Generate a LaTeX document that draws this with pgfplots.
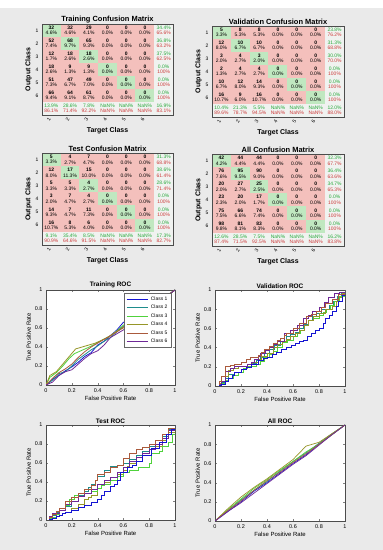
\documentclass[border=0pt]{standalone}
\usepackage{pgfplots}
\pgfplotsset{compat=1.18}
\usepackage{pgfplotstable}
\usepackage{fontspec}
\setmainfont{Liberation Sans}
\definecolor{figbg}{RGB}{234,234,234}
\definecolor{sgr}{RGB}{40,170,60}
\definecolor{srd}{RGB}{205,60,60}
\definecolor{r1}{RGB}{20,20,210}
\definecolor{r2}{RGB}{30,140,140}
\definecolor{r3}{RGB}{80,210,60}
\definecolor{r4}{RGB}{150,150,40}
\definecolor{r5}{RGB}{170,90,60}
\definecolor{r6}{RGB}{110,40,150}
\protected\def\K#1#2{\textbf{#1}\\#2\%}
\protected\def\Q#1#2{\textcolor{sgr}{#1\%}\\\textcolor{srd}{#2\%}}
\protected\def\Z{\K{0}{0.0}}
\protected\def\N{\Q{NaN}{NaN}}
\protected\def\W{\Q{0.0}{100}}

\pgfplotstableread{
x y c
1 1 1
2 1 0
3 1 0
4 1 0
5 1 0
6 1 0
7 1 2
1 2 0
2 2 1
3 2 0
4 2 0
5 2 0
6 2 0
7 2 2
1 3 0
2 3 0
3 3 1
4 3 0
5 3 0
6 3 0
7 3 2
1 4 0
2 4 0
3 4 0
4 4 1
5 4 0
6 4 0
7 4 2
1 5 0
2 5 0
3 5 0
4 5 0
5 5 1
6 5 0
7 5 2
1 6 0
2 6 0
3 6 0
4 6 0
5 6 0
6 6 1
7 6 2
1 7 2
2 7 2
3 7 2
4 7 2
5 7 2
6 7 2
7 7 2
}\gridtab

\pgfplotsset{
  /pgf/number format/assume math mode=true,
  every axis title shift=0pt,
  cm/.style={scale only axis, width=131bp, height=91bp,
    xmin=0.5, xmax=7.5, ymin=0.5, ymax=7.5, y dir=reverse,
    xtick={1,...,6}, ytick={1,...,6}, major tick length=0pt,
    x tick label style={rotate=60, anchor=east, font=\fontsize{5}{5}\selectfont},
    y tick label style={font=\fontsize{5}{5}\selectfont},
    xlabel={Target Class}, ylabel={Output Class},
    label style={font=\bfseries\fontsize{7}{8}\selectfont},
    xlabel style={yshift=2pt}, ylabel style={yshift=-3pt},
    title style={font=\bfseries\fontsize{7.5}{8}\selectfont, inner sep=1pt},
    axis on top, axis line style={black!70},
    colormap={cmc}{rgb255=(244,192,188) rgb255=(192,232,192) rgb255=(240,242,240)},
  },
  cmcells/.style={matrix plot, mesh/cols=7, colormap access=direct, point meta=\thisrow{c}, faceted color=black!55},
  cmtext/.style={draw=none, mark=none, nodes near coords, point meta=explicit symbolic,
    nodes near coords align={center},
    every node near coord/.append style={font=\fontsize{5}{5.5}\selectfont, align=center, inner sep=0pt, anchor=center}},
  roc/.style={scale only axis, width=129bp, height=95bp,
    xmin=0, xmax=1, ymin=0, ymax=1,
    xtick={0,0.2,0.4,0.6,0.8,1}, ytick={0,0.2,0.4,0.6,0.8,1},
    tick label style={font=\fontsize{5.5}{6}\selectfont},
    xlabel={False Positive Rate}, ylabel={True Positive Rate},
    label style={font=\fontsize{6}{7}\selectfont},
    xlabel style={yshift=3pt}, ylabel style={yshift=-3pt},
    title style={font=\bfseries\fontsize{6.5}{7}\selectfont, inner sep=1.5pt},
    axis background/.style={fill=white}, major tick length=2pt,
    axis line style={black!70},
    every axis plot/.append style={line width=0.8pt},
  },
}

\begin{document}
\begin{tikzpicture}
\fill[figbg] (0bp,0bp) rectangle (383bp,542bp);
\fill[white] (0bp,542bp) rectangle (383bp,550bp);

% ---------- Training confusion
\begin{axis}[cm, at={(42bp,435bp)}, anchor=south west, title={Training Confusion Matrix}]
\addplot[cmcells] table {\gridtab};
\addplot[cmtext] coordinates {
(1,1)[\K{32}{4.6}] (2,1)[\K{32}{4.6}] (3,1)[\K{29}{4.1}] (4,1)[\Z] (5,1)[\Z] (6,1)[\Z] (7,1)[\Q{34.4}{65.6}]
(1,2)[\K{52}{7.4}] (2,2)[\K{68}{9.7}] (3,2)[\K{65}{9.3}] (4,2)[\Z] (5,2)[\Z] (6,2)[\Z] (7,2)[\Q{36.8}{63.2}]
(1,3)[\K{12}{1.7}] (2,3)[\K{18}{2.6}] (3,3)[\K{18}{2.6}] (4,3)[\Z] (5,3)[\Z] (6,3)[\Z] (7,3)[\Q{37.5}{62.5}]
(1,4)[\K{18}{2.6}] (2,4)[\K{9}{1.3}] (3,4)[\K{9}{1.3}] (4,4)[\Z] (5,4)[\Z] (6,4)[\Z] (7,4)[\W]
(1,5)[\K{51}{7.3}] (2,5)[\K{47}{6.7}] (3,5)[\K{49}{7.0}] (4,5)[\Z] (5,5)[\Z] (6,5)[\Z] (7,5)[\W]
(1,6)[\K{66}{9.4}] (2,6)[\K{64}{9.1}] (3,6)[\K{61}{8.7}] (4,6)[\Z] (5,6)[\Z] (6,6)[\Z] (7,6)[\W]
(1,7)[\Q{13.9}{86.1}] (2,7)[\Q{28.6}{71.4}] (3,7)[\Q{7.8}{92.2}] (4,7)[\N] (5,7)[\N] (6,7)[\N] (7,7)[\Q{16.9}{83.1}]
};
\end{axis}

% ---------- Validation confusion
\begin{axis}[cm, at={(212bp,433bp)}, anchor=south west, width=132bp, title={Validation Confusion Matrix}]
\addplot[cmcells] table {\gridtab};
\addplot[cmtext] coordinates {
(1,1)[\K{5}{3.3}] (2,1)[\K{8}{5.3}] (3,1)[\K{8}{5.3}] (4,1)[\Z] (5,1)[\Z] (6,1)[\Z] (7,1)[\Q{23.8}{76.2}]
(1,2)[\K{12}{8.0}] (2,2)[\K{10}{6.7}] (3,2)[\K{10}{6.7}] (4,2)[\Z] (5,2)[\Z] (6,2)[\Z] (7,2)[\Q{31.3}{68.8}]
(1,3)[\K{3}{2.0}] (2,3)[\K{4}{2.7}] (3,3)[\K{3}{2.0}] (4,3)[\Z] (5,3)[\Z] (6,3)[\Z] (7,3)[\Q{30.0}{70.0}]
(1,4)[\K{2}{1.3}] (2,4)[\K{4}{2.7}] (3,4)[\K{4}{2.7}] (4,4)[\Z] (5,4)[\Z] (6,4)[\Z] (7,4)[\W]
(1,5)[\K{10}{6.7}] (2,5)[\K{12}{8.0}] (3,5)[\K{14}{9.3}] (4,5)[\Z] (5,5)[\Z] (6,5)[\Z] (7,5)[\W]
(1,6)[\K{16}{10.7}] (2,6)[\K{9}{6.0}] (3,6)[\K{16}{10.7}] (4,6)[\Z] (5,6)[\Z] (6,6)[\Z] (7,6)[\W]
(1,7)[\Q{10.4}{89.6}] (2,7)[\Q{21.3}{78.7}] (3,7)[\Q{5.5}{94.5}] (4,7)[\N] (5,7)[\N] (6,7)[\N] (7,7)[\Q{12.0}{88.0}]
};
\end{axis}

% ---------- Test confusion
\begin{axis}[cm, at={(42bp,305bp)}, anchor=south west, height=92bp, title={Test Confusion Matrix}]
\addplot[cmcells] table {\gridtab};
\addplot[cmtext] coordinates {
(1,1)[\K{5}{3.3}] (2,1)[\K{4}{2.7}] (3,1)[\K{7}{4.7}] (4,1)[\Z] (5,1)[\Z] (6,1)[\Z] (7,1)[\Q{31.3}{68.8}]
(1,2)[\K{12}{8.0}] (2,2)[\K{17}{11.3}] (3,2)[\K{15}{10.0}] (4,2)[\Z] (5,2)[\Z] (6,2)[\Z] (7,2)[\Q{38.6}{61.4}]
(1,3)[\K{5}{3.3}] (2,3)[\K{5}{3.3}] (3,3)[\K{4}{2.7}] (4,3)[\Z] (5,3)[\Z] (6,3)[\Z] (7,3)[\Q{28.6}{71.4}]
(1,4)[\K{3}{2.0}] (2,4)[\K{7}{4.7}] (3,4)[\K{4}{2.7}] (4,4)[\Z] (5,4)[\Z] (6,4)[\Z] (7,4)[\W]
(1,5)[\K{14}{9.3}] (2,5)[\K{7}{4.7}] (3,5)[\K{11}{7.3}] (4,5)[\Z] (5,5)[\Z] (6,5)[\Z] (7,5)[\W]
(1,6)[\K{16}{10.7}] (2,6)[\K{8}{5.3}] (3,6)[\K{6}{4.0}] (4,6)[\Z] (5,6)[\Z] (6,6)[\Z] (7,6)[\W]
(1,7)[\Q{9.1}{90.9}] (2,7)[\Q{35.4}{64.6}] (3,7)[\Q{8.5}{91.5}] (4,7)[\N] (5,7)[\N] (6,7)[\N] (7,7)[\Q{17.3}{82.7}]
};
\end{axis}

% ---------- All confusion
\begin{axis}[cm, at={(212bp,304bp)}, anchor=south west, width=132bp, height=92bp, title={All Confusion Matrix}]
\addplot[cmcells] table {\gridtab};
\addplot[cmtext] coordinates {
(1,1)[\K{42}{4.2}] (2,1)[\K{44}{4.4}] (3,1)[\K{44}{4.4}] (4,1)[\Z] (5,1)[\Z] (6,1)[\Z] (7,1)[\Q{32.3}{67.7}]
(1,2)[\K{76}{7.6}] (2,2)[\K{95}{9.5}] (3,2)[\K{90}{9.0}] (4,2)[\Z] (5,2)[\Z] (6,2)[\Z] (7,2)[\Q{36.4}{63.6}]
(1,3)[\K{20}{2.0}] (2,3)[\K{27}{2.7}] (3,3)[\K{25}{2.5}] (4,3)[\Z] (5,3)[\Z] (6,3)[\Z] (7,3)[\Q{34.7}{65.3}]
(1,4)[\K{23}{2.3}] (2,4)[\K{20}{2.0}] (3,4)[\K{17}{1.7}] (4,4)[\Z] (5,4)[\Z] (6,4)[\Z] (7,4)[\W]
(1,5)[\K{75}{7.5}] (2,5)[\K{66}{6.6}] (3,5)[\K{74}{7.4}] (4,5)[\Z] (5,5)[\Z] (6,5)[\Z] (7,5)[\W]
(1,6)[\K{98}{9.8}] (2,6)[\K{81}{8.1}] (3,6)[\K{83}{8.3}] (4,6)[\Z] (5,6)[\Z] (6,6)[\Z] (7,6)[\W]
(1,7)[\Q{12.6}{87.4}] (2,7)[\Q{28.5}{71.5}] (3,7)[\Q{7.5}{92.5}] (4,7)[\N] (5,7)[\N] (6,7)[\N] (7,7)[\Q{16.2}{83.8}]
};
\end{axis}

% ---------- Training ROC
\begin{axis}[roc, at={(46bp,165bp)}, anchor=south west, title={Training ROC},
  legend style={at={(0.97,0.97)}, anchor=north east, font=\fontsize{5}{5.5}\selectfont, inner sep=1.5pt, row sep=-0.6pt, draw=black!60, cells={anchor=west}},
  legend image code/.code={\draw[#1, line width=0.8pt] (0pt,0pt) -- (22pt,0pt);}]
\addplot[r1] coordinates {(0,0) (0.05,0.06) (0.1,0.1) (0.15,0.15) (0.2,0.19) (0.25,0.24) (0.3,0.3) (0.35,0.34) (0.4,0.42) (0.45,0.46) (0.5,0.52) (0.55,0.58) (0.6,0.66) (0.65,0.68) (0.7,0.72) (0.8,0.8) (0.9,0.9) (1,1)};
\addplot[r2] coordinates {(0,0) (0.05,0.05) (0.1,0.12) (0.15,0.14) (0.2,0.2) (0.25,0.27) (0.3,0.32) (0.35,0.37) (0.4,0.41) (0.45,0.46) (0.5,0.5) (0.55,0.56) (0.6,0.62) (0.7,0.7) (0.8,0.8) (0.9,0.9) (1,1)};
\addplot[r3] coordinates {(0,0) (0.03,0.08) (0.08,0.13) (0.13,0.2) (0.18,0.28) (0.22,0.33) (0.27,0.36) (0.32,0.39) (0.38,0.43) (0.43,0.47) (0.5,0.52) (0.55,0.57) (0.6,0.63) (0.7,0.7) (0.8,0.8) (0.9,0.9) (1,1)};
\addplot[r4] coordinates {(0,0) (0.03,0.1) (0.08,0.14) (0.13,0.22) (0.18,0.3) (0.23,0.38) (0.28,0.4) (0.33,0.42) (0.38,0.44) (0.43,0.47) (0.48,0.5) (0.53,0.55) (0.6,0.6) (0.7,0.7) (0.8,0.8) (0.9,0.91) (1,1)};
\addplot[r5] coordinates {(0,0) (0.05,0.07) (0.1,0.13) (0.15,0.17) (0.2,0.22) (0.25,0.29) (0.3,0.35) (0.35,0.4) (0.4,0.44) (0.45,0.48) (0.5,0.52) (0.55,0.56) (0.6,0.61) (0.7,0.71) (0.8,0.8) (0.9,0.9) (1,1)};
\addplot[r6] coordinates {(0,0) (0.05,0.03) (0.1,0.1) (0.15,0.14) (0.2,0.16) (0.25,0.22) (0.3,0.28) (0.35,0.33) (0.4,0.36) (0.45,0.42) (0.5,0.5) (0.55,0.54) (0.6,0.58) (0.7,0.68) (0.8,0.79) (0.9,0.9) (1,1)};
\legend{Class 1, Class 2, Class 3, Class 4, Class 5, Class 6}
\end{axis}

% ---------- Validation ROC
\begin{axis}[roc, at={(215bp,164bp)}, anchor=south west, width=130bp, height=96bp, title={Validation ROC}]
\addplot[r2, const plot] coordinates {(0,0) (0.03,0.02) (0.05,0.04) (0.08,0.08) (0.1,0.12) (0.15,0.14) (0.2,0.17) (0.24,0.2) (0.28,0.24) (0.32,0.27) (0.35,0.3) (0.38,0.34) (0.42,0.38) (0.46,0.42) (0.5,0.46) (0.55,0.52) (0.58,0.54) (0.62,0.56) (0.65,0.6) (0.68,0.64) (0.72,0.68) (0.75,0.72) (0.78,0.76) (0.82,0.8) (0.88,0.84) (0.91,0.88) (0.94,0.93) (0.97,0.96) (1,1)};
\addplot[r3, const plot] coordinates {(0,0) (0.03,0.02) (0.05,0.03) (0.08,0.06) (0.1,0.08) (0.14,0.11) (0.18,0.14) (0.22,0.18) (0.25,0.2) (0.32,0.22) (0.35,0.26) (0.38,0.3) (0.42,0.33) (0.45,0.36) (0.48,0.4) (0.52,0.45) (0.56,0.48) (0.6,0.52) (0.63,0.55) (0.66,0.58) (0.69,0.63) (0.72,0.68) (0.76,0.7) (0.8,0.74) (0.83,0.77) (0.86,0.8) (0.89,0.84) (0.92,0.88) (0.96,0.93) (1,1)};
\addplot[r4, const plot] coordinates {(0,0) (0.03,0.03) (0.05,0.05) (0.08,0.1) (0.1,0.16) (0.14,0.18) (0.18,0.2) (0.25,0.22) (0.29,0.25) (0.33,0.28) (0.36,0.31) (0.4,0.34) (0.45,0.4) (0.48,0.43) (0.52,0.46) (0.55,0.49) (0.58,0.52) (0.62,0.55) (0.65,0.58) (0.69,0.63) (0.72,0.68) (0.76,0.72) (0.8,0.76) (0.85,0.8) (0.9,0.83) (0.93,0.88) (0.95,0.92) (0.98,0.96) (1,1)};
\addplot[r6, const plot] coordinates {(0,0) (0.03,0.02) (0.05,0.05) (0.08,0.15) (0.12,0.18) (0.15,0.2) (0.25,0.22) (0.28,0.25) (0.3,0.28) (0.33,0.31) (0.35,0.34) (0.39,0.37) (0.42,0.4) (0.45,0.43) (0.48,0.46) (0.53,0.55) (0.58,0.58) (0.63,0.63) (0.68,0.7) (0.72,0.74) (0.75,0.78) (0.8,0.82) (0.84,0.87) (0.87,0.92) (0.92,0.96) (0.96,0.98) (1,1)};
\addplot[r5, const plot] coordinates {(0,0) (0.03,0.05) (0.05,0.1) (0.08,0.2) (0.12,0.21) (0.15,0.22) (0.2,0.25) (0.24,0.28) (0.27,0.3) (0.33,0.32) (0.36,0.35) (0.38,0.38) (0.42,0.41) (0.45,0.44) (0.48,0.47) (0.5,0.5) (0.53,0.53) (0.55,0.55) (0.6,0.6) (0.65,0.65) (0.7,0.72) (0.74,0.75) (0.78,0.78) (0.82,0.82) (0.85,0.86) (0.9,0.9) (0.95,0.95) (1,1)};
\addplot[r1, const plot] coordinates {(0,0) (0.03,0.01) (0.05,0.02) (0.08,0.05) (0.1,0.08) (0.13,0.11) (0.15,0.14) (0.2,0.17) (0.24,0.19) (0.28,0.22) (0.33,0.27) (0.37,0.29) (0.4,0.3) (0.44,0.33) (0.47,0.35) (0.51,0.38) (0.55,0.4) (0.59,0.42) (0.62,0.44) (0.65,0.46) (0.68,0.48) (0.71,0.52) (0.74,0.55) (0.77,0.58) (0.8,0.6) (0.83,0.65) (0.85,0.7) (0.88,0.74) (0.9,0.78) (0.93,0.83) (0.95,0.88) (0.98,0.94) (1,1)};
\end{axis}

% ---------- Test ROC
\begin{axis}[roc, at={(46bp,30bp)}, anchor=south west, title={Test ROC}]
\addplot[r4, const plot] coordinates {(0,0) (0.03,0.01) (0.05,0.02) (0.08,0.04) (0.1,0.05) (0.13,0.07) (0.15,0.08) (0.2,0.12) (0.25,0.16) (0.3,0.22) (0.33,0.24) (0.35,0.26) (0.4,0.33) (0.43,0.37) (0.45,0.4) (0.5,0.45) (0.55,0.48) (0.6,0.52) (0.63,0.56) (0.65,0.6) (0.7,0.66) (0.75,0.72) (0.8,0.74) (0.85,0.78) (0.9,0.84) (0.93,0.88) (0.95,0.92) (1,1)};
\addplot[r3, const plot] coordinates {(0,0) (0.03,0.02) (0.05,0.03) (0.08,0.06) (0.1,0.1) (0.15,0.15) (0.18,0.22) (0.22,0.26) (0.3,0.28) (0.35,0.3) (0.4,0.33) (0.43,0.36) (0.45,0.38) (0.5,0.42) (0.55,0.46) (0.6,0.5) (0.65,0.52) (0.72,0.55) (0.8,0.6) (0.82,0.7) (0.88,0.72) (0.9,0.78) (0.95,0.82) (0.98,0.9) (1,1)};
\addplot[r2, const plot] coordinates {(0,0) (0.03,0.03) (0.05,0.05) (0.08,0.08) (0.1,0.1) (0.15,0.14) (0.2,0.2) (0.25,0.26) (0.3,0.3) (0.33,0.34) (0.35,0.38) (0.38,0.42) (0.4,0.46) (0.45,0.52) (0.5,0.56) (0.55,0.58) (0.6,0.6) (0.65,0.64) (0.7,0.68) (0.75,0.72) (0.8,0.78) (0.85,0.8) (0.9,0.88) (0.95,0.95) (1,1)};
\addplot[r6, const plot] coordinates {(0,0) (0.03,0.04) (0.05,0.07) (0.1,0.1) (0.15,0.16) (0.2,0.2) (0.25,0.25) (0.3,0.28) (0.35,0.32) (0.4,0.38) (0.45,0.42) (0.5,0.45) (0.55,0.5) (0.6,0.55) (0.65,0.62) (0.7,0.66) (0.75,0.7) (0.8,0.74) (0.85,0.8) (0.9,0.86) (0.95,0.94) (1,1)};
\addplot[r5, const plot] coordinates {(0,0) (0.03,0.03) (0.05,0.06) (0.08,0.09) (0.1,0.12) (0.15,0.2) (0.2,0.24) (0.25,0.28) (0.3,0.32) (0.35,0.36) (0.38,0.42) (0.4,0.48) (0.45,0.5) (0.5,0.55) (0.55,0.58) (0.6,0.65) (0.65,0.7) (0.7,0.74) (0.75,0.76) (0.8,0.8) (0.85,0.84) (0.9,0.9) (0.95,0.96) (1,1)};
\addplot[r1, const plot] coordinates {(0,0) (0.03,0.01) (0.05,0.02) (0.08,0.04) (0.1,0.05) (0.13,0.07) (0.15,0.08) (0.2,0.1) (0.25,0.13) (0.3,0.15) (0.35,0.19) (0.4,0.22) (0.43,0.26) (0.45,0.3) (0.5,0.35) (0.53,0.38) (0.55,0.42) (0.58,0.5) (0.63,0.55) (0.67,0.58) (0.7,0.62) (0.75,0.68) (0.82,0.75) (0.88,0.82) (0.93,0.9) (0.97,0.95) (1,1)};
\end{axis}

% ---------- All ROC
\begin{axis}[roc, at={(215bp,29bp)}, anchor=south west, width=130bp, height=96bp, title={All ROC},
  every axis plot/.append style={line width=0.7pt}]
\addplot[r1] coordinates {(0,0) (0.1,0.1) (0.2,0.2) (0.3,0.31) (0.4,0.4) (0.5,0.5) (0.6,0.6) (0.7,0.69) (0.8,0.8) (0.9,0.9) (1,1)};
\addplot[r2] coordinates {(0,0) (0.1,0.11) (0.2,0.22) (0.3,0.32) (0.4,0.41) (0.5,0.52) (0.6,0.62) (0.7,0.71) (0.8,0.81) (0.9,0.91) (1,1)};
\addplot[r3] coordinates {(0,0) (0.1,0.12) (0.2,0.23) (0.3,0.34) (0.4,0.43) (0.5,0.53) (0.6,0.62) (0.7,0.72) (0.8,0.8) (0.9,0.9) (1,1)};
\addplot[r4] coordinates {(0,0) (0.1,0.13) (0.2,0.25) (0.3,0.35) (0.4,0.44) (0.5,0.54) (0.6,0.64) (0.7,0.78) (0.75,0.8) (0.8,0.82) (0.9,0.91) (1,1)};
\addplot[r5] coordinates {(0,0) (0.1,0.11) (0.2,0.21) (0.3,0.32) (0.4,0.42) (0.5,0.51) (0.6,0.61) (0.7,0.7) (0.8,0.8) (0.9,0.9) (1,1)};
\addplot[r6] coordinates {(0,0) (0.1,0.1) (0.2,0.19) (0.3,0.29) (0.4,0.39) (0.5,0.49) (0.6,0.59) (0.7,0.68) (0.8,0.79) (0.9,0.9) (1,1)};
\end{axis}

\pgfresetboundingbox
\path[use as bounding box] (0bp,0bp) rectangle (383bp,550bp);
\end{tikzpicture}
\end{document}
